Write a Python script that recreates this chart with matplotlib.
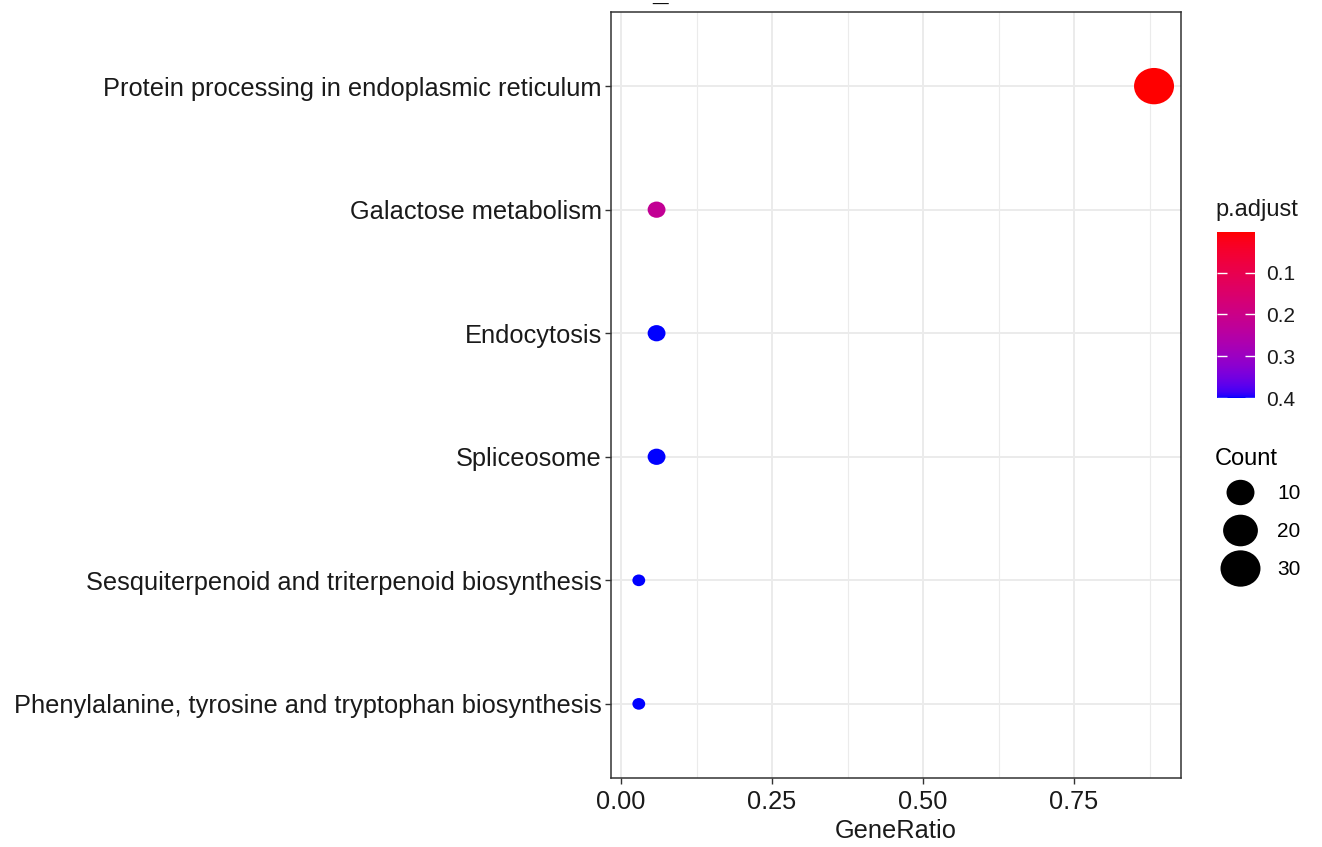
import numpy as np
import matplotlib
matplotlib.use("Agg")
import matplotlib.pyplot as plt
from matplotlib.colors import ListedColormap, Normalize
from matplotlib.lines import Line2D
from matplotlib.path import Path
from matplotlib.transforms import Affine2D

plt.rcParams['font.family'] = ['Liberation Sans', 'DejaVu Sans']

# KEGG enrichment dotplot data (top to bottom)
pathways = ["Protein processing in endoplasmic reticulum",
            "Galactose metabolism",
            "Endocytosis",
            "Spliceosome",
            "Sesquiterpenoid and triterpenoid biosynthesis",
            "Phenylalanine, tyrosine and tryptophan biosynthesis"]
gene_ratio = [30 / 34, 2 / 34, 2 / 34, 2 / 34, 1 / 34, 1 / 34]
counts = [30, 2, 2, 2, 1, 1]
p_adjust = [0.0025, 0.22, 0.40, 0.40, 0.40, 0.40]

count_breaks = [10, 20, 30]
p_breaks = [0.1, 0.2, 0.3, 0.4]


def srgb_to_lab(rgb):
    c = np.asarray(rgb, float)
    lin = np.where(c <= 0.04045, c / 12.92, ((c + 0.055) / 1.055) ** 2.4)
    M = np.array([[0.4124, 0.3576, 0.1805],
                  [0.2126, 0.7152, 0.0722],
                  [0.0193, 0.1192, 0.9505]])
    xyz = M @ lin / np.array([0.95047, 1.0, 1.08883])
    f = np.where(xyz > 0.008856, np.cbrt(xyz), 7.787 * xyz + 16 / 116)
    return np.array([116 * f[1] - 16, 500 * (f[0] - f[1]), 200 * (f[1] - f[2])])


def lab_to_srgb(lab):
    L, a, b = lab
    fy = (L + 16) / 116
    f = np.array([fy + a / 500, fy, fy - b / 200])
    xyz = np.where(f ** 3 > 0.008856, f ** 3, (f - 16 / 116) / 7.787)
    xyz = xyz * np.array([0.95047, 1.0, 1.08883])
    Minv = np.array([[3.2406, -1.5372, -0.4986],
                     [-0.9689, 1.8758, 0.0415],
                     [0.0557, -0.2040, 1.0570]])
    lin = np.clip(Minv @ xyz, 0, 1)
    c = np.where(lin <= 0.0031308, 12.92 * lin, 1.055 * lin ** (1 / 2.4) - 0.055)
    return np.clip(c, 0, 1)


# red -> blue gradient interpolated in Lab, like ggplot2
lab_lo = srgb_to_lab([1, 0, 0])
lab_hi = srgb_to_lab([0, 0, 1])
cmap = ListedColormap([lab_to_srgb(lab_lo + t * (lab_hi - lab_lo)) for t in np.linspace(0, 1, 256)])
norm = Normalize(vmin=min(p_adjust), vmax=max(p_adjust))

# the reference image is a bit stretched sideways, so dots are slightly wide
dot = Path.unit_circle().transformed(Affine2D().scale(1.1, 1.0))


def count_to_pts(c):
    # ggplot area scale (range 1..6) -> marker width in points
    size = 1 + 5 * np.sqrt((np.asarray(c, float) - 1) / (max(counts) - 1))
    diam_px = 5.43 * size + 7.4
    return diam_px * 0.72


fig = plt.figure(figsize=(13.22, 8.47), dpi=100)
ax = fig.add_axes([611 / 1322, 1 - 778 / 847, 570 / 1322, 766 / 847])

ypos = np.arange(len(pathways))[::-1]
ax.scatter(gene_ratio, ypos, s=count_to_pts(counts) ** 2, c=p_adjust, cmap=cmap, norm=norm,
           marker=dot, linewidths=0, zorder=3)

ax.set_xlim(-0.0166, 0.927)
ax.set_ylim(-0.6, len(pathways) - 0.4)
ax.set_yticks(ypos)
ax.set_yticklabels(pathways)
ax.set_xticks([0, 0.25, 0.5, 0.75])
ax.set_xticklabels(["0.00", "0.25", "0.50", "0.75"])
ax.set_xticks([0.125, 0.375, 0.625, 0.875], minor=True)
ax.grid(which='major', color='#EBEBEB', lw=1.4, zorder=0)
ax.grid(which='minor', axis='x', color='#EBEBEB', lw=0.8, zorder=0)
ax.set_axisbelow(True)
ax.tick_params(which='major', length=4, width=1.0, color='#333333', labelsize=18.3,
               labelcolor='#1a1a1a', pad=2.5)
ax.tick_params(axis='x', pad=4.5)
ax.tick_params(which='minor', length=0)
for sp in ax.spines.values():
    sp.set_color('#333333')
    sp.set_linewidth(1.1)
ax.set_xlabel("GeneRatio", fontsize=18.3, labelpad=4, color='#1a1a1a')

# colour bar for p.adjust
cax = fig.add_axes([1217 / 1322, 1 - 398 / 847, 38 / 1322, 166 / 847])
cb = fig.colorbar(plt.cm.ScalarMappable(norm=norm, cmap=cmap), cax=cax)
cb.outline.set_visible(False)
cax.invert_yaxis()
cb.set_ticks(p_breaks)
cb.set_ticklabels([str(v) for v in p_breaks])
cax.tick_params(direction='in', length=7, width=1.0, color='white', left=True, right=True,
                labelsize=15, labelcolor='#1a1a1a', pad=8)
fig.text(1215 / 1322, 1 - 210 / 847, "p.adjust", fontsize=17, va='center', ha='left', color='#1a1a1a')

# size legend for Count
handles = [Line2D([], [], ls='none', marker=dot, color='black', markeredgewidth=0,
                  markersize=count_to_pts(c)) for c in count_breaks]
leg = fig.legend(handles, [str(c) for c in count_breaks], title="Count", loc='upper left',
                 bbox_to_anchor=(1215 / 1322, 1 - 448 / 847), frameon=False, fontsize=15,
                 title_fontsize=17, labelspacing=0.92, handlelength=2.4, handletextpad=0.58,
                 borderpad=0, borderaxespad=0)
leg._legend_box.align = "left"
leg._legend_box.sep = 10

# cropped title remnant at the very top
fig.text(660 / 1322, 1 - 1.5 / 847, "_", fontsize=20, fontweight='bold', ha='center', va='baseline')

fig.savefig("out.png", dpi=100)
